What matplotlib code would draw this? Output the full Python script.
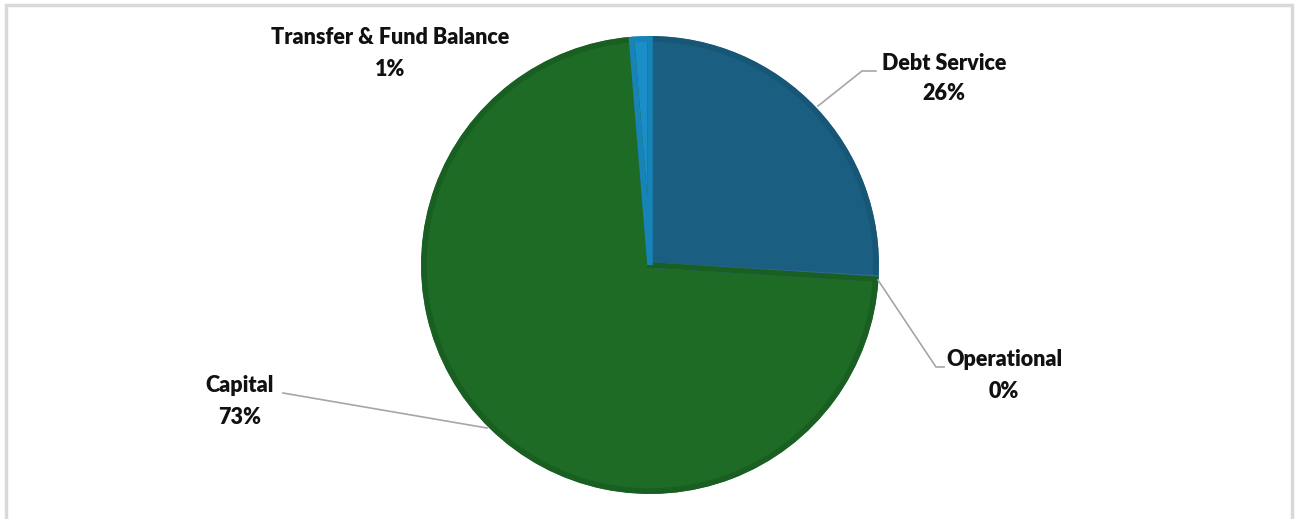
import matplotlib.pyplot as plt
from matplotlib.patches import Rectangle

# data
categories = ['Debt Service', 'Operational', 'Capital', 'Transfer & Fund Balance']
shares = [25.9, 0.1, 72.7, 1.3]
pct_labels = ['26%', '0%', '73%', '1%']
colors = ['#1a5f82', '#3a7fb0', '#1e6b26', '#1a8ec6']
edges = ['#175675', '#2f6a92', '#1a5f22', '#1883b6']

H = 519
fig = plt.figure(figsize=(12.96, 5.19), dpi=100)
ax = fig.add_axes([0, 0, 1, 1])

# light frame
ax.add_patch(Rectangle((6, -10), 1286, H - 5 + 10, fill=False, edgecolor='#d9d9d9', linewidth=2.5))

ax.pie(shares, colors=colors, startangle=90, counterclock=False,
       center=(650, H - 265), radius=229, frame=True,
       wedgeprops=dict(linewidth=0))
# darker inner rim on each slice
rim, _ = ax.pie(shares, colors=edges, startangle=90, counterclock=False,
                center=(650, H - 265), radius=226, frame=True,
                wedgeprops=dict(linewidth=4, fill=False))
for w, e in zip(rim, edges):
    w.set_edgecolor(e)
ax.set_xlim(0, 1296)
ax.set_ylim(0, H)
ax.set_aspect('equal')
ax.axis('off')

font = dict(family='Lato', fontsize=15.5, fontweight='heavy', color='#111111', ha='center', va='center')

# label positions (pixel coords of text centres)
label_xy = {'Debt Service': (944, 63), 'Operational': (1004, 360),
            'Capital': (240, 386), 'Transfer & Fund Balance': (390, 38)}
for cat, pct in zip(categories, pct_labels):
    x, y = label_xy[cat]
    ax.text(x, H - y, cat, **font)
    ax.text(x, H - y - 31, pct, **font)

# leader lines
lc = dict(color='#a6a6a6', linewidth=1.2)
ax.plot([818, 862, 876], [H - 106, H - 71, H - 71], **lc)
ax.plot([878, 936, 944], [H - 280, H - 367, H - 367], **lc)
ax.plot([283, 487], [H - 393, H - 428], **lc)

fig.savefig('out.png', dpi=100)
